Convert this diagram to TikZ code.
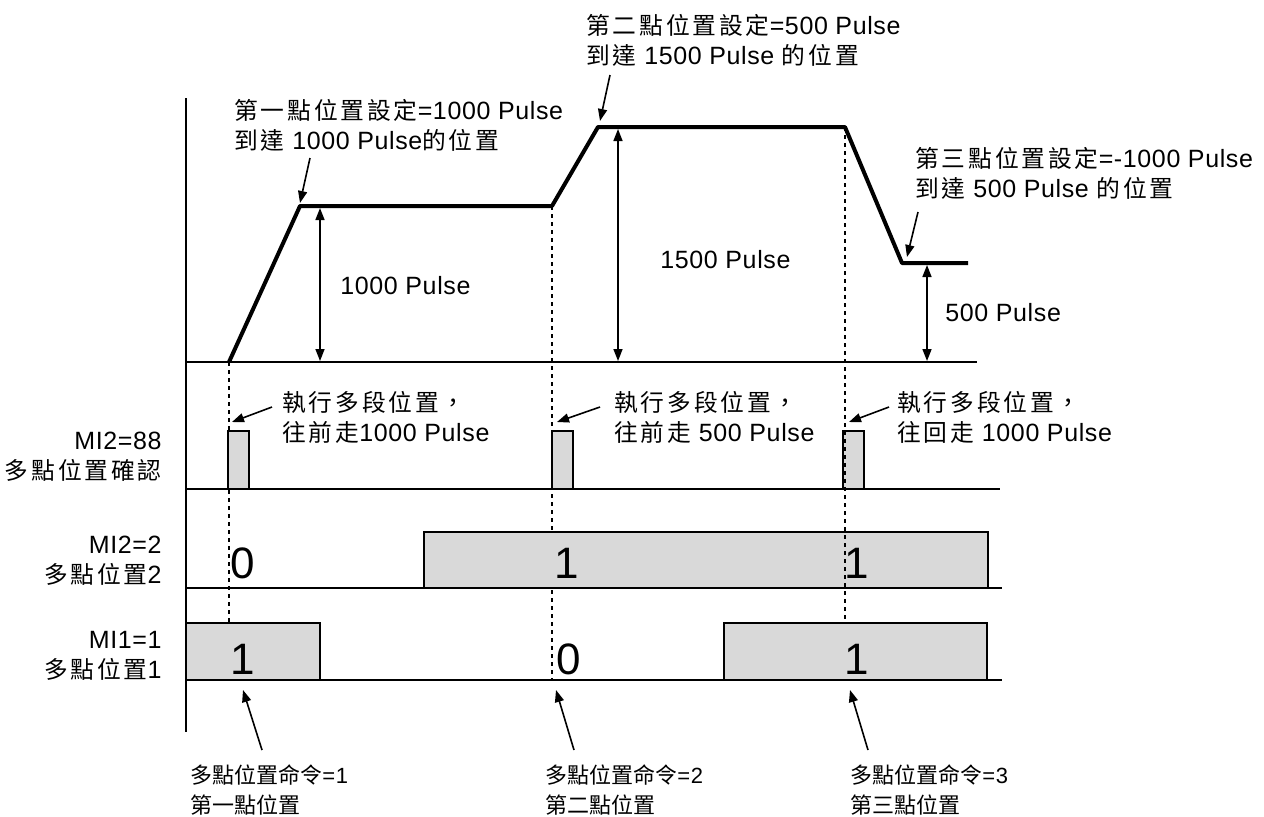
\documentclass[tikz,border=0pt]{standalone}
\usepackage{fontspec}
\setmainfont{Liberation Sans}[LetterSpace=2.5]
\newfontfamily\zh[Scale=0.95,LetterSpace=12]{Noto Sans CJK TC}
\newfontfamily\zhn{Noto Sans CJK TC}
\newcommand{\z}[1]{{\zh #1}}
\newcommand{\zn}[1]{{\zhn #1}}
\usetikzlibrary{arrows.meta}

\begin{document}
\begin{tikzpicture}[x=0.5pt, y=-0.5pt,
    every node/.style={font=\fontsize{12.5}{15}\selectfont, inner sep=0pt},
    note/.style={anchor=west, align=left},
    cmd/.style={note, font=\fontsize{11}{15}\selectfont},
    lab/.style={anchor=east, align=right},
    bit/.style={font=\fontsize{22}{24}\selectfont},
    prof/.style={line width=2pt, line join=round},
    base/.style={line width=1pt},
    cue/.style={line width=1pt, dash pattern=on 2pt off 2pt},
    sig/.style={draw, line width=0.8pt, fill=black!15},
    dim/.style={line width=0.8pt, {Triangle[length=6pt,width=4.5pt]}-{Triangle[length=6pt,width=4.5pt]}},
    ptr/.style={line width=0.8pt, -{Triangle[length=6pt,width=4.5pt]}}]
    \useasboundingbox (0,0) rectangle (1264,816);

    % axis and base lines
    \draw[base] (186,98) -- (186,732);
    \draw[base] (186,362) -- (977,362);
    \draw[base] (186,489) -- (1000,489);
    \draw[base] (186,588) -- (1002,588);
    \draw[base] (186,680) -- (1002,680);

    % position profile
    \coordinate (P0) at (229,362);
    \coordinate (P1) at (300,206);
    \coordinate (P2) at (552,206);
    \coordinate (P3) at (598,127);
    \coordinate (P4) at (845,127);
    \coordinate (P5) at (902,263);
    \coordinate (P6) at (968,263);

    \draw[cue] (P0) -- (229,623);
    \draw[cue] (P2) -- (552,680);

    \draw[prof] (P0) -- (P1) -- (P2) -- (P3) -- (P4) -- (P5) -- (P6);

    % signals
    \draw[sig] (228,431) rectangle (249,489);
    \draw[sig] (552,431) rectangle (573,489);
    \draw[sig] (843,431) rectangle (864,489);
    \draw[sig] (424,532) rectangle (988,588);
    \draw[sig] (186,623) rectangle (320,680);
    \draw[sig] (724,623) rectangle (987,680);
    \draw[cue] (P4) -- (845,623);

    % heights
    \coordinate (D1a) at (320,208);
    \coordinate (D1b) at (320,361);
    \coordinate (D2a) at (618,129);
    \coordinate (D2b) at (618,361);
    \coordinate (D3a) at (927,265);
    \coordinate (D3b) at (927,361);
    \draw[dim] (D1a) -- (D1b);
    \draw[dim] (D2a) -- (D2b);
    \draw[dim] (D3a) -- (D3b);
    \node[note] (h1) at (340,286) {1000 Pulse};
    \node[note] (h2) at (660,260) {1500 Pulse};
    \node[note] (h3) at (945,313) {500 Pulse};

    % targets
    \node[note] (t1) at (234,125) {\z{第一點位置設定}=1000 Pulse\\\z{到達} 1000 Pulse\z{的位置}};
    \node[note] (t2) at (586,40) {\z{第二點位置設定}=500 Pulse\\\z{到達} 1500 Pulse \z{的位置}};
    \node[note] (t3) at (915,173) {\z{第三點位置設定}=-1000 Pulse\\\z{到達} 500 Pulse \z{的位置}};
    \coordinate (s1) at (310,158);
    \coordinate (s2) at (610,75);
    \coordinate (s3) at (918,212);
    \coordinate (e1) at (300,203);
    \coordinate (e2) at (600,121);
    \coordinate (e3) at (907,257);
    \draw[ptr] (s1) -- (e1);
    \draw[ptr] (s2) -- (e2);
    \draw[ptr] (s3) -- (e3);

    % run pulses
    \node[note] (x1) at (282,417) {\z{執行多段位置，}\\\z{往前走}1000 Pulse};
    \node[note] (x2) at (614,417) {\z{執行多段位置，}\\\z{往前走} 500 Pulse};
    \node[note] (x3) at (897,417) {\z{執行多段位置，}\\\z{往回走} 1000 Pulse};
    \coordinate (q1) at (272,407);
    \coordinate (q2) at (600,407);
    \coordinate (q3) at (889,407);
    \coordinate (k1) at (232,422);
    \coordinate (k2) at (557,422);
    \coordinate (k3) at (849,422);
    \draw[ptr] (q1) -- (k1);
    \draw[ptr] (q2) -- (k2);
    \draw[ptr] (q3) -- (k3);

    % row labels
    \node[lab] (r1) at (162,457) {MI2=88\\\z{多點位置確認}};
    \node[lab] (r2) at (162,561) {MI2=2\\\z{多點位置}2};
    \node[lab] (r3) at (162,656) {MI1=1\\\z{多點位置}1};

    % bit values
    \node[bit] (v1) at (243,563) {0};
    \node[bit] (v2) at (567,563) {1};
    \node[bit] (v3) at (857,563) {1};
    \node[bit] (v4) at (243,659) {1};
    \node[bit] (v5) at (569,659) {0};
    \node[bit] (v6) at (857,659) {1};

    % commands
    \node[cmd] (c1) at (190,790) {\zn{多點位置命令}=1\\\zn{第一點位置}};
    \node[cmd] (c2) at (545,790) {\zn{多點位置命令}=2\\\zn{第二點位置}};
    \node[cmd] (c3) at (850,790) {\zn{多點位置命令}=3\\\zn{第三點位置}};
    \coordinate (u1) at (262,750);
    \coordinate (u2) at (574,750);
    \coordinate (u3) at (868,750);
    \coordinate (w1) at (243,690);
    \coordinate (w2) at (556,690);
    \coordinate (w3) at (850,690);
    \draw[ptr] (u1) -- (w1);
    \draw[ptr] (u2) -- (w2);
    \draw[ptr] (u3) -- (w3);
\end{tikzpicture}
\end{document}
